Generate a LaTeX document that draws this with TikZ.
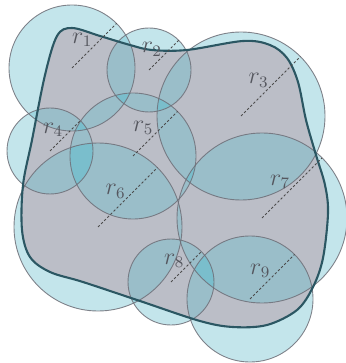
\documentclass[tikz,border=0pt]{standalone}
\usepackage{amsmath}
\usepackage{tikz}
\usetikzlibrary{calc}
\usepackage{xcolor}
\definecolor{covCyan}{HTML}{6ABFCE}
\definecolor{covGray}{HTML}{BBBEC7}
\definecolor{covEdge}{HTML}{2B5763}
\definecolor{covLine}{HTML}{6E6F78}
\definecolor{covText}{HTML}{55575F}
\tikzset{
  diskfill/.style={fill=covCyan, fill opacity=0.4},
  overlap/.style={fill=covCyan, fill opacity=0.4},
  diskline/.style={draw=covLine, line width=0.45pt, draw opacity=0.85},
  region/.style={fill=covGray},
  boundary/.style={draw=covEdge, line width=1.05pt},
  radline/.style={draw=black!70, line width=0.4pt, dash pattern=on 1.2pt off 1pt},
  rlabel/.style={text=covText, font=\large, inner sep=0pt, xshift=-6pt, yshift=3pt}
}
\def\regionpath{plot[smooth cycle, tension=0.55] coordinates {
  (57,-36) (72,-28) (100,-36) (130,-45) (152,-50) (187,-50) (243,-41) (270,-45)
  (287,-58) (298,-82) (306,-120) (316,-155) (325,-185) (328,-213) (323,-258)
  (313,-287) (297,-310) (267,-325) (233,-327) (200,-321) (140,-301) (83,-282)
  (50,-272) (30,-257) (22,-230) (23,-185) (32,-140) (45,-75)}}
\begin{document}
\begin{tikzpicture}[x=0.5pt,y=0.5pt]
  \useasboundingbox (0,0) rectangle (345,-363);
  \foreach \n/\x/\y/\r in {1/72/68/63, 2/149/70/42, 3/241/116/84, 4/50/151/43, 5/133/156/63,
                          6/98/227/84, 7/262/218/85, 8/171/282/43, 9/250/299/63}{
    \coordinate (c\n) at (\x,-\y);
    \coordinate (e\n) at ($(c\n)+(45:\r)$);
    \fill[diskfill] (c\n) circle (\r);
  }
  \fill[region] \regionpath;
  \begin{scope}
    \clip \regionpath;
    \foreach \i/\ri in {1/63,2/42,3/84,4/43,5/63,6/84,7/85,8/43,9/63}{
      \foreach \j/\rj in {1/63,2/42,3/84,4/43,5/63,6/84,7/85,8/43,9/63}{
        \ifnum\j>\i
          \begin{scope}
            \clip (c\i) circle (\ri);
            \fill[overlap] (c\j) circle (\rj);
          \end{scope}
        \fi
      }
    }
  \end{scope}
  \foreach \n/\r in {1/63,2/42,3/84,4/43,5/63,6/84,7/85,8/43,9/63}{
    \draw[diskline] (c\n) circle (\r);
  }
  \draw[boundary] \regionpath;
  \foreach \n in {1,...,9}{
    \draw[radline] (c\n) -- (e\n) node[midway, rlabel] (l\n) {$r_{\n}$};
  }
\end{tikzpicture}
\end{document}
